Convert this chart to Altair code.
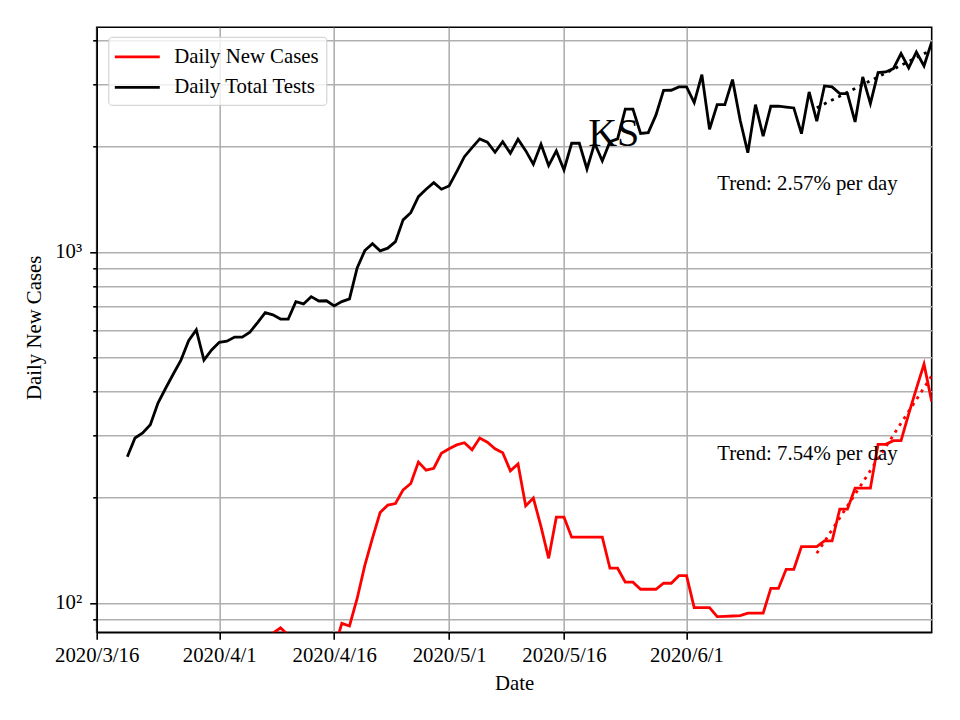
import altair as alt
import pandas as pd

# ---------------- data ----------------
dates = [d.strftime("%Y-%m-%dT00:00:00")
         for d in pd.date_range("2020-03-20", "2020-07-03", freq="D")]

daily_total_tests = [
    261, 295, 305, 322, 371, 409, 449, 492, 559, 600,
    492, 526, 553, 557, 572, 572, 591, 629, 672, 662,
    644, 644, 722, 711, 746, 725, 726, 702, 722, 735,
    900, 1009, 1056, 1007, 1025, 1070, 1234, 1294, 1437, 1509,
    1576, 1509, 1542, 1693, 1868, 1983, 2099, 2054, 1923, 2062,
    1911, 2095, 1944, 1778, 2027, 1762, 1940, 1712, 2040, 2040,
    1723, 2040, 1817, 2062, 2099, 2551, 2551, 2176, 2188, 2453,
    2885, 2888, 2952, 2952, 2663, 3200, 2237, 2628, 2628, 3097,
    2373, 1918, 2628, 2136, 2601, 2601, 2585, 2572, 2173, 2857,
    2358, 2971, 2952, 2825, 2825, 2347, 3152, 2645, 3242, 3257,
    3329, 3673, 3344, 3713, 3388, 3965,
]

daily_new_cases = [
    10, 12, 15, 18, 22, 26, 30, 35, 40, 45,
    50, 54, 58, 62, 65, 68, 70, 72, 74, 82,
    85, 81, 76, 75, 74, 73, 72, 74, 87.5, 86,
    103, 128, 153, 181, 190, 192, 210, 219, 252, 239,
    242, 267, 275, 282, 286, 273, 295, 287, 275, 268,
    238, 249, 189, 199, 165, 134, 175.5, 175.5, 154, 154,
    154, 154, 154, 125.6, 125.6, 114.6, 114.6, 109.4, 109.4, 109.4,
    113.8, 113.8, 119.6, 119.6, 97, 97, 97, 91.4, 91.6, 91.8,
    92, 93.5, 93.5, 93.5, 110, 110, 124.7, 124.7, 144.7, 144.7,
    144.7, 150.2, 150.2, 185, 185, 212.3, 212.3, 212.3, 283, 283,
    290, 290, 345.5, 408, 479, 375,
]

series_names = ["Daily New Cases", "Daily Total Tests"]
series_colors = ["red", "black"]

trend_start = "2020-06-18T00:00:00"

trend_labels = ["Trend: 7.54% per day", "Trend: 2.57% per day"]
trend_label_dates = ["2020-06-05T00:00:00", "2020-06-05T00:00:00"]
trend_label_values = [255, 1500]

state_label = ["KS"]
state_label_date = ["2020-05-22T12:00:00"]
state_label_value = [2000]

x_tick_dates = [(2020, 3, 16), (2020, 4, 1), (2020, 4, 16),
                (2020, 5, 1), (2020, 5, 16), (2020, 6, 1)]
y_ticks = [90, 100, 200, 300, 400, 500, 600, 700, 800, 900,
           1000, 2000, 3000, 4000]

# ---------------- tables ----------------
df = pd.DataFrame({
    "date": dates * 2,
    "value": daily_new_cases + daily_total_tests,
    "series": [series_names[0]] * len(dates) + [series_names[1]] * len(dates),
})
trend_text_df = pd.DataFrame({"date": trend_label_dates,
                              "value": trend_label_values,
                              "label": trend_labels})
state_df = pd.DataFrame({"date": state_label_date,
                         "value": state_label_value,
                         "label": state_label})

FONT = "Liberation Serif"
FS = 20.8
LW = 2.8

x_enc = alt.X(
    "t:T",
    scale=alt.Scale(domain=[alt.DateTime(year=2020, month=3, date=16),
                            alt.DateTime(year=2020, month=7, date=3)]),
    axis=alt.Axis(
        values=[alt.DateTime(year=y, month=m, date=d) for y, m, d in x_tick_dates],
        format="%Y/%-m/%-d",
        title="Date",
        labelFlush=False,
        labelOverlap=False,
        tickSize=7,
        labelPadding=6,
        titleY=57,
        titleBaseline="alphabetic",
    ),
)
y_enc = alt.Y(
    "value:Q",
    scale=alt.Scale(type="log", domain=[82.5, 4365], nice=False),
    axis=alt.Axis(
        values=y_ticks,
        labelExpr="datum.value == 100 ? '10²' : datum.value == 1000 ? '10³' : ''",
        title="Daily New Cases",
        tickSize={"condition": {"test": "datum.value == 100 || datum.value == 1000",
                                "value": 7}, "value": 4},
        labelPadding=8,
        labelFlush=False,
        titleX=-56,
        titleY=300,
        titleBaseline="alphabetic",
    ),
)

base = alt.Chart(df).transform_calculate(t="toDate(datum.date)")

lines = base.mark_line(strokeWidth=LW, clip=True).encode(
    x=x_enc,
    y=y_enc,
    color=alt.Color(
        "series:N",
        scale=alt.Scale(domain=series_names, range=series_colors),
        legend=alt.Legend(
            title=None,
            orient="none",
            legendX=11.6,
            legendY=9.5,
            symbolType="M-2,0L2,0",
            symbolSize=506,
            symbolStrokeWidth=LW,
            symbolOffset=9,
            labelFont=FONT,
            labelFontSize=FS,
            labelColor="black",
            labelOffset=24,
            labelLimit=0,
            fillColor="rgba(255,255,255,0.8)",
            strokeColor="#cccccc",
            cornerRadius=3,
            padding=7,
            rowPadding=7.5,
        ),
    ),
)

trend = (
    base.transform_filter(f"datum.t >= toDate('{trend_start}')")
    .transform_regression("t", "value", method="exp", groupby=["series"])
    .mark_line(strokeDash=[3, 5], strokeWidth=LW, clip=True)
    .encode(
        x=x_enc,
        y=y_enc,
        color=alt.Color("series:N",
                        scale=alt.Scale(domain=series_names, range=series_colors),
                        legend=None),
    )
)

trend_text = (
    alt.Chart(trend_text_df)
    .transform_calculate(t="toDate(datum.date)")
    .mark_text(align="left", baseline="alphabetic", font=FONT, fontSize=FS,
               color="black")
    .encode(x=x_enc, y=y_enc, text="label:N")
)

state_text = (
    alt.Chart(state_df)
    .transform_calculate(t="toDate(datum.date)")
    .mark_text(align="center", baseline="alphabetic", font=FONT, fontSize=40,
               color="black")
    .encode(x=x_enc, y=y_enc, text="label:N")
)

chart = (
    alt.layer(lines, trend, trend_text, state_text)
    .properties(
        width=835,
        height=605,
        autosize=alt.AutoSizeParams(type="none"),
        padding={"left": 88.7, "top": 19.3, "right": 16, "bottom": 80},
    )
    .configure(font=FONT)
    .configure_axis(
        labelFont=FONT,
        titleFont=FONT,
        labelFontSize=FS,
        titleFontSize=FS,
        titleFontWeight="normal",
        labelColor="black",
        titleColor="black",
        tickColor="black",
        tickWidth=1.6,
        domain=True,
        domainColor="black",
        domainWidth=1.6,
        gridColor="#b0b0b0",
        gridWidth=1.6,
        gridOpacity=1,
    )
    .configure_view(stroke="black", strokeWidth=1.6)
)

chart.save("out.html", embed_options={"renderer": "svg", "actions": False})
